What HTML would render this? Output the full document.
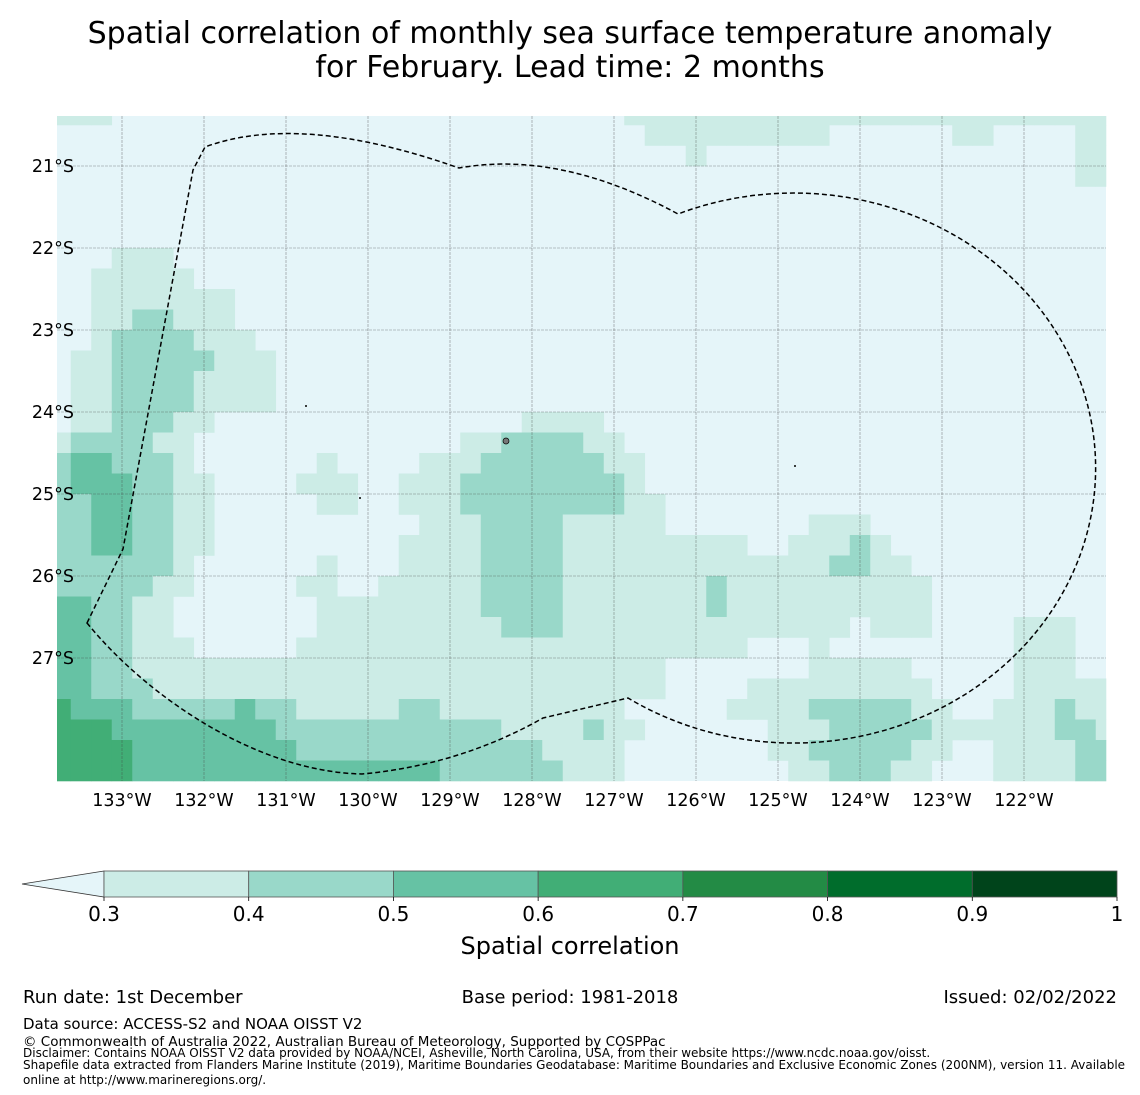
<!DOCTYPE html>
<html><head><meta charset="utf-8"><style>
html,body{margin:0;padding:0;background:#fff;}
svg{display:block;font-family:"DejaVu Sans","Liberation Sans",sans-serif;}
</style></head><body>
<svg id="fig" width="1140" height="1095" viewBox="0 0 1140 1095" xmlns="http://www.w3.org/2000/svg">
<text x="570" y="43" font-size="30" text-anchor="middle">Spatial correlation of monthly sea surface temperature anomaly</text>
<text x="570" y="77" font-size="30" text-anchor="middle">for February. Lead time: 2 months</text>
<g id="cells"></g>
<g id="grid"></g>
<path d="M87,623 L123,549 L193,170 L205,147 Q300,112 459,168 Q560,150 678,214 A302,275 0 1 1 628,698 L543,718 Q460,765 362,774 C260,772 150,700 87,623 Z" fill="none" stroke="#000" stroke-width="1.5" stroke-dasharray="5,3"/>
<circle cx="306" cy="406" r="1" fill="#000"/>
<circle cx="360" cy="498" r="1" fill="#000"/>
<circle cx="506" cy="441" r="3" fill="#777" stroke="#000" stroke-width="0.7"/>
<circle cx="795" cy="466" r="1" fill="#000"/>
<g id="lablon"></g>
<g id="lablat"></g>
<g id="cbar"></g>
<text x="570" y="954" font-size="24" text-anchor="middle">Spatial correlation</text>
<text x="23" y="1003" font-size="18">Run date: 1st December</text>
<text x="570" y="1003" font-size="18" text-anchor="middle">Base period: 1981-2018</text>
<text x="1117" y="1003" font-size="18" text-anchor="end">Issued: 02/02/2022</text>
<text x="23" y="1029" font-size="15">Data source: ACCESS-S2 and NOAA OISST V2</text>
<text x="23" y="1046" font-size="13.5">© Commonwealth of Australia 2022, Australian Bureau of Meteorology, Supported by COSPPac</text>
<text x="23" y="1057" font-size="12">Disclaimer: Contains NOAA OISST V2 data provided by NOAA/NCEI, Asheville, North Carolina, USA, from their website https://www.ncdc.noaa.gov/oisst.</text>
<text x="23" y="1069" font-size="12">Shapefile data extracted from Flanders Marine Institute (2019), Maritime Boundaries Geodatabase: Maritime Boundaries and Exclusive Economic Zones (200NM), version 11. Available</text>
<text x="23" y="1084" font-size="12">online at http://www.marineregions.org/.</text>
</svg>
<script>
const gridRows = [
"1110000000000000000000000000111111111111111111111111",
"0000000000000000000000000000011111111100000011000011",
"0000000000000000000000000000000100000000000000000011",
"0000000000000000000000000000000000000000000000000011",
"0000000000000000000000000000000000000000000000000000",
"0000000000000000000000000000000000000000000000000000",
"0000000000000000000000000000000000000000000000000000",
"0001110000000000000000000000000000000000000000000000",
"0011111000000000000000000000000000000000000000000000",
"0011111110000000000000000000000000000000000000000000",
"0011221110000000000000000000000000000000000000000000",
"0012222111000000000000000000000000000000000000000000",
"0112222211100000000000000000000000000000000000000000",
"0112222111100000000000000000000000000000000000000000",
"0112222111100000000000000000000000000000000000000000",
"0112221100000000000000011110000000000000000000000000",
"1222211000000000000011222211000000000000000000000000",
"2332221000000100001112222221100000000000000000000000",
"2333221100001110011122222222100000000000000000000000",
"2233221100000110011122222222110000000000000000000000",
"2233221100000000001112222111110000000111000000000000",
"2233221100000000011112222111111111001112100000000000",
"2222221000000100011112222111111111111122110000000000",
"2222211000001100111112222111111121111111111000000000",
"3322110000000111111112222111111121111111111000000000",
"3322110000000111111111222111111111111110111000011100",
"3322111000001111111111111111111111000100000000011100",
"3322111111111111111111111111110000000111110000011100",
"3322211111111111111111111111110000111111111000011111",
"4333222223221111122111111111000001111222221100111211",
"4443333333322222222222111121100000011122222111111221",
"4444333333332222222222221111000000011222221100111122",
"4444333333333333333222222111000000001122211000111122"
];
const levelColors = ["#e5f5f9","#ccece6","#99d8c9","#66c2a4","#41ae76","#238b45","#006d2c","#00441b"];
const lonTicks = [-133,-132,-131,-130,-129,-128,-127,-126,-125,-124,-123,-122];
const lonLabels = ["133°W","132°W","131°W","130°W","129°W","128°W","127°W","126°W","125°W","124°W","123°W","122°W"];
const latTicks = [-21,-22,-23,-24,-25,-26,-27];
const latLabels = ["21°S","22°S","23°S","24°S","25°S","26°S","27°S"];
const cbarBounds = [0.3,0.4,0.5,0.6,0.7,0.8,0.9,1.0];
const cbarLabels = ["0.3","0.4","0.5","0.6","0.7","0.8","0.9","1"];

const NS="http://www.w3.org/2000/svg";
const mapL=57, mapR=1106, mapT=116, mapB=781;
const pxPerDeg=82;
function xOfLon(lon){return 122+(lon+133)*pxPerDeg;}
function yOfLat(lat){return 166-(lat+21)*pxPerDeg;}
function colEdge(c){ if(c<=0) return mapL; return Math.min(mapR, xOfLon(-133.625+0.25*(c-1))); }
function rowEdge(r){ if(r<=0) return mapT; return Math.min(mapB, yOfLat(-20.5-0.25*(r-1))); }
function mk(tag,attrs){const e=document.createElementNS(NS,tag);for(const k in attrs)e.setAttribute(k,attrs[k]);return e;}

const gCells=document.getElementById('cells');
gCells.appendChild(mk('rect',{x:mapL,y:mapT,width:mapR-mapL,height:mapB-mapT,fill:levelColors[0]}));
gridRows.forEach((row,r)=>{
  for(let c=0;c<row.length;c++){
    const v=+row[c]; if(v===0) continue;
    const x0=colEdge(c), x1=colEdge(c+1), y0=rowEdge(r), y1=rowEdge(r+1);
    const rc=mk('rect',{x:x0,y:y0,width:x1-x0+0.3,height:y1-y0+0.3,fill:levelColors[v]});
    
    
    gCells.appendChild(rc);
  }
});

const gGrid=document.getElementById('grid');
lonTicks.forEach(lon=>{const x=xOfLon(lon);
  const l=mk('line',{x1:x,x2:x,y1:mapT,y2:mapB,stroke:"#444","stroke-width":0.6,"stroke-dasharray":"3,1","stroke-opacity":0.6});
  
  
  gGrid.appendChild(l);});
latTicks.forEach(lat=>{const y=yOfLat(lat);
  const l=mk('line',{x1:mapL,x2:mapR,y1:y,y2:y,stroke:"#444","stroke-width":0.6,"stroke-dasharray":"3,1","stroke-opacity":0.6});
  
  
  gGrid.appendChild(l);});

const gLon=document.getElementById('lablon');
lonTicks.forEach((lon,i)=>{const t=mk('text',{x:xOfLon(lon),y:806,"font-size":17.5,"text-anchor":"middle"});t.textContent=lonLabels[i];
  
  
  gLon.appendChild(t);});
const gLat=document.getElementById('lablat');
latTicks.forEach((lat,i)=>{const t=mk('text',{x:74,y:yOfLat(lat)+6,"font-size":17.5,"text-anchor":"end"});t.textContent=latLabels[i];
  
  
  gLat.appendChild(t);});

const gC=document.getElementById('cbar');
const cbL=104, cbR=1117, cbT=871, cbB=897;
function xOfVal(v){return cbL+(v-0.3)/(1.0-0.3)*(cbR-cbL);}
const tri=mk('polygon',{points:`${cbL},${cbT} 22,${(cbT+cbB)/2} ${cbL},${cbB}`,fill:levelColors[0],stroke:"#333","stroke-width":0.8});


gC.appendChild(tri);
for(let i=0;i<cbarBounds.length-1;i++){
  const x0=xOfVal(cbarBounds[i]), x1=xOfVal(cbarBounds[i+1]);
  const r=mk('rect',{x:x0,y:cbT,width:x1-x0,height:cbB-cbT,fill:levelColors[i+1],stroke:"#555","stroke-width":0.8});
  
  
  gC.appendChild(r);
}
cbarBounds.forEach((v,i)=>{
  const x=xOfVal(v);
  gC.appendChild(mk('line',{x1:x,x2:x,y1:cbB,y2:cbB+4,stroke:"#000","stroke-width":0.8}));
  const t=mk('text',{x:x,y:921,"font-size":20,"text-anchor":"middle"});t.textContent=cbarLabels[i];
  
  
  gC.appendChild(t);
});
</script>
</body></html>
